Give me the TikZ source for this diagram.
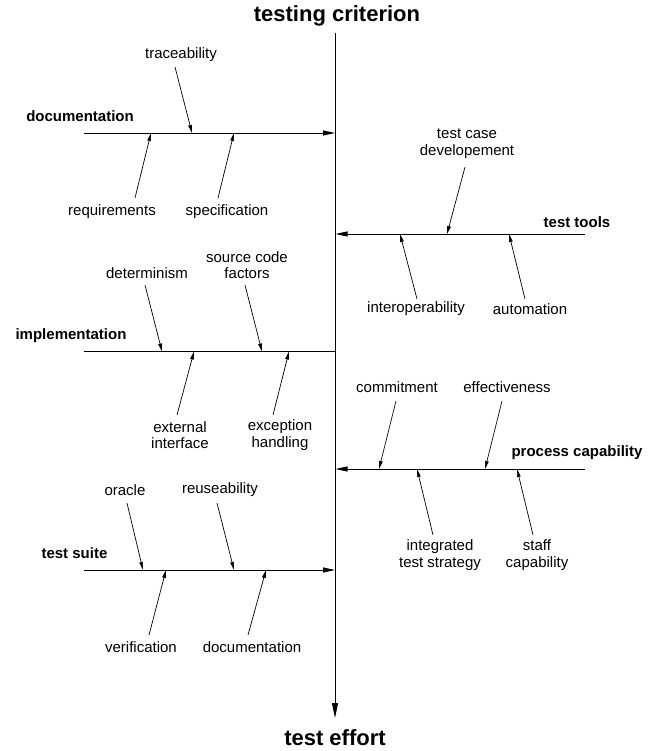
\documentclass[tikz,border=0pt]{standalone}
\usepackage{fontspec}
\setmainfont{Liberation Sans}
\usetikzlibrary{arrows.meta}
\begin{document}
\begin{tikzpicture}[x=1pt,y=-1pt,
  lbl/.style={font=\fontsize{15}{16.5}\selectfont, inner sep=0pt, align=center},
  cause/.style={font=\fontsize{15}{17}\selectfont\bfseries, inner sep=0pt},
  ttl/.style={font=\fontsize{22}{26}\selectfont\bfseries, inner sep=0pt},
  bone/.style={line width=0.9pt},
  bonearrow/.style={line width=0.9pt, -{Triangle[length=12pt,width=5pt]}},
  spine/.style={line width=1pt, -{Triangle[length=15pt,width=6pt]}},
  rib/.style={line width=0.7pt, -{Triangle[length=8pt,width=3.6pt]}}]
\useasboundingbox (0,0) rectangle (654,751);

% spine
\node[ttl] (top) at (337,16) {testing criterion};
\node[ttl] (bot) at (335,738) {test effort};
\coordinate (s0) at (335,33);
\coordinate (s1) at (335,718);
\draw[spine] (s0) -- (s1);

% documentation
\node[cause] (docL) at (80,116) {documentation};
\coordinate (d0) at (84,133);
\coordinate (d1) at (335,133);
\draw[bonearrow] (d0) -- (d1);
\node[lbl] (trace) at (181,55) {traceability};
\coordinate (traceT) at (175,67); \coordinate (traceH) at (192,133);
\draw[rib] (traceT) -- (traceH);
\node[lbl] (req) at (112,212) {requirements};
\coordinate (reqT) at (135,198); \coordinate (reqH) at (151,133);
\draw[rib] (reqT) -- (reqH);
\node[lbl] (spec) at (227,212) {specification};
\coordinate (specT) at (218,198); \coordinate (specH) at (234,133);
\draw[rib] (specT) -- (specH);

% test tools
\node[cause] (toolsL) at (577,222) {test tools};
\coordinate (t0) at (585,234);
\coordinate (t1) at (335.5,234);
\draw[bonearrow] (t0) -- (t1);
\node[lbl] (tcd) at (467,143.5) {test case\\developement};
\coordinate (tcdT) at (465,167); \coordinate (tcdH) at (447,234);
\draw[rib] (tcdT) -- (tcdH);
\node[lbl] (inter) at (416,309) {interoperability};
\coordinate (interT) at (417,299); \coordinate (interH) at (400,234);
\draw[rib] (interT) -- (interH);
\node[lbl] (auto) at (530,309) {automation};
\coordinate (autoT) at (525,299); \coordinate (autoH) at (509,234);
\draw[rib] (autoT) -- (autoH);

% implementation
\node[cause] (implL) at (71,336) {implementation};
\coordinate (i0) at (84,351.5);
\coordinate (i1) at (335,351.5);
\draw[bone] (i0) -- (i1);
\node[lbl] (det) at (147,273) {determinism};
\coordinate (detT) at (145,285); \coordinate (detH) at (162,351.5);
\draw[rib] (detT) -- (detH);
\node[lbl] (scf) at (247,265) {source code\\factors};
\coordinate (scfT) at (245,285); \coordinate (scfH) at (262,351.5);
\draw[rib] (scfT) -- (scfH);
\node[lbl] (ext) at (180,435) {external\\interface};
\coordinate (extT) at (177,415); \coordinate (extH) at (194,351.5);
\draw[rib] (extT) -- (extH);
\node[lbl] (exc) at (280,435) {exception\\handling};
\coordinate (excT) at (273,415); \coordinate (excH) at (289,351.5);
\draw[rib] (excT) -- (excH);

% process capability
\node[cause] (procL) at (577,453) {process capability};
\coordinate (p0) at (585,469);
\coordinate (p1) at (335.5,469);
\draw[bonearrow] (p0) -- (p1);
\node[lbl] (comm) at (397,387) {commitment};
\coordinate (commT) at (396,401); \coordinate (commH) at (379,469);
\draw[rib] (commT) -- (commH);
\node[lbl] (eff) at (507,387) {effectiveness};
\coordinate (effT) at (502,401); \coordinate (effH) at (485,469);
\draw[rib] (effT) -- (effH);
\node[lbl] (its) at (440,555) {integrated\\test strategy};
\coordinate (itsT) at (433,535); \coordinate (itsH) at (417,469);
\draw[rib] (itsT) -- (itsH);
\node[lbl] (staff) at (537,555) {staff\\capability};
\coordinate (staffT) at (533,535); \coordinate (staffH) at (517,469);
\draw[rib] (staffT) -- (staffH);

% test suite
\node[cause] (suiteL) at (74.5,553) {test suite};
\coordinate (u0) at (84,570);
\coordinate (u1) at (335,570);
\draw[bonearrow] (u0) -- (u1);
\node[lbl] (orac) at (125,490) {oracle};
\coordinate (oracT) at (127,503); \coordinate (oracH) at (143,570);
\draw[rib] (oracT) -- (oracH);
\node[lbl] (reuse) at (220,490) {reuseability};
\coordinate (reuseT) at (217,503); \coordinate (reuseH) at (234,570);
\draw[rib] (reuseT) -- (reuseH);
\node[lbl] (veri) at (141,647) {verification};
\coordinate (veriT) at (149,635); \coordinate (veriH) at (166,570);
\draw[rib] (veriT) -- (veriH);
\node[lbl] (docu) at (252,647) {documentation};
\coordinate (docuT) at (248,635); \coordinate (docuH) at (266,570);
\draw[rib] (docuT) -- (docuH);
\end{tikzpicture}
\end{document}
